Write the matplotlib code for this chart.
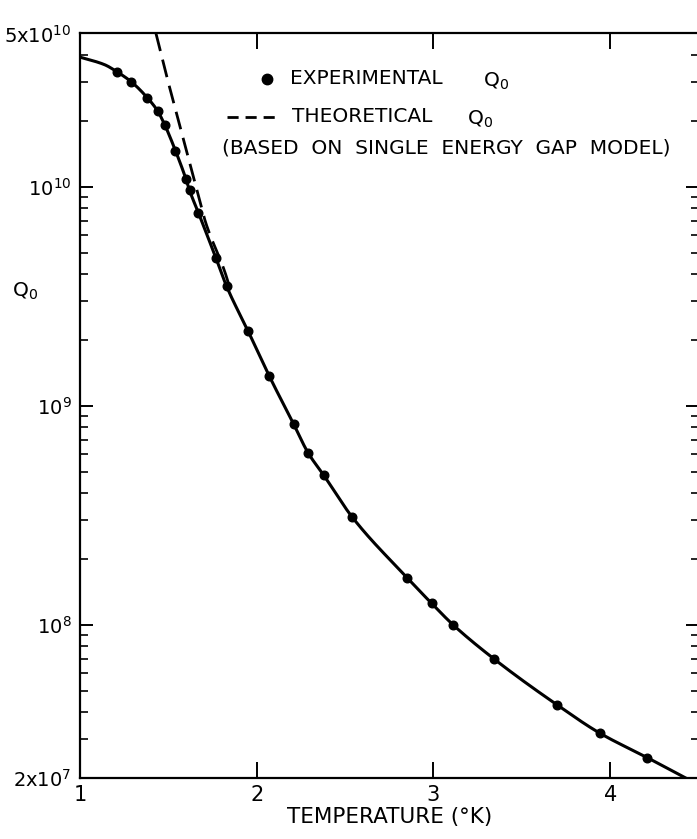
import numpy as np
import matplotlib
matplotlib.use("Agg")
import matplotlib.pyplot as plt
from matplotlib.ticker import FixedLocator, FixedFormatter, NullFormatter

plt.rcParams['font.family'] = ['DejaVu Sans']
plt.rcParams['mathtext.fontset'] = 'dejavusans'

# ---- data ----
temp_exp = [1.21, 1.29, 1.38, 1.44, 1.48, 1.54, 1.60, 1.62, 1.67, 1.77, 1.83, 1.95,
            2.07, 2.21, 2.29, 2.38, 2.54, 2.85, 2.99, 3.11, 3.34, 3.70, 3.94, 4.21]
q_exp = [3.34e10, 3.01e10, 2.55e10, 2.21e10, 1.91e10, 1.46e10, 1.08e10, 9.6e9, 7.6e9,
         4.7e9, 3.5e9, 2.2e9, 1.37e9, 8.2e8, 6.1e8, 4.8e8, 3.1e8, 1.64e8, 1.25e8,
         1.0e8, 7.0e7, 4.3e7, 3.2e7, 2.47e7]

# smooth curve drawn through the experimental points (knots)
temp_fit = [1.00, 1.14] + temp_exp + [4.45]
q_fit = [3.9e10, 3.6e10] + q_exp + [1.95e7]

# theoretical Q0 (single energy gap model), dashed
temp_th = [1.43, 1.49, 1.535, 1.585, 1.63, 1.67, 1.71, 1.82, 1.85]
q_th = [5.0e10, 3.2e10, 2.34e10, 1.65e10, 1.2e10, 9.1e9, 6.9e9, 4.07e9, 3.41e9]

xticks = [1, 2, 3, 4]
ytick_vals = [2e7, 1e8, 1e9, 1e10, 5e10]
ytick_labels = [r"2x$10^{7}$", r"$10^{8}$", r"$10^{9}$", r"$10^{10}$", r"5x$10^{10}$"]


def pchip(x, y, xn):
    x = np.asarray(x, float); y = np.asarray(y, float)
    h = np.diff(x); d = np.diff(y) / h
    m = np.zeros_like(y)
    for k in range(1, len(x) - 1):
        if d[k - 1] * d[k] > 0:
            w1 = 2 * h[k] + h[k - 1]; w2 = h[k] + 2 * h[k - 1]
            m[k] = (w1 + w2) / (w1 / d[k - 1] + w2 / d[k])
    m[0] = d[0]; m[-1] = d[-1]
    idx = np.clip(np.searchsorted(x, xn) - 1, 0, len(x) - 2)
    t = (xn - x[idx]) / h[idx]
    h00 = 2 * t**3 - 3 * t**2 + 1; h10 = t**3 - 2 * t**2 + t
    h01 = -2 * t**3 + 3 * t**2; h11 = t**3 - t**2
    return (h00 * y[idx] + h10 * h[idx] * m[idx] + h01 * y[idx + 1] + h11 * h[idx] * m[idx + 1])


W, H = 697, 839
fig = plt.figure(figsize=(W / 100, H / 100), dpi=100)
left, right, top, bottom = 80, 698.5, 33.5, 777.7
ax = fig.add_axes([left / W, 1 - bottom / H, (right - left) / W, (bottom - top) / H])

ax.set_yscale('log')
ax.set_xlim(1, 4.5)
ax.set_ylim(2e7, 5e10)

xs = np.linspace(temp_fit[0], temp_fit[-1], 600)
ax.plot(xs, 10 ** pchip(temp_fit, np.log10(q_fit), xs), color='black', lw=2.2, zorder=3)
ax.plot(temp_exp, q_exp, 'o', color='black', ms=6.2, zorder=4)
xt = np.linspace(temp_th[0], temp_th[-1], 200)
ax.plot(xt, 10 ** pchip(temp_th, np.log10(q_th), xt), color='black', lw=2.0,
        dashes=(6.5, 3.2), zorder=2)

for s in ax.spines.values():
    s.set_linewidth(1.6)

ax.xaxis.set_major_locator(FixedLocator(xticks))
ax.xaxis.set_major_formatter(FixedFormatter([str(v) for v in xticks]))
ax.tick_params(axis='x', which='major', direction='in', length=11.5, width=1.4,
               top=True, bottom=True, labelsize=15, pad=5)
ax.yaxis.set_major_locator(FixedLocator(ytick_vals))
ax.yaxis.set_major_formatter(FixedFormatter(ytick_labels))
minors = [m * 10.0 ** e for e in (7, 8, 9, 10) for m in range(2, 10)]
minors = [v for v in minors if 2e7 < v < 5e10]
ax.yaxis.set_minor_locator(FixedLocator(minors))
ax.yaxis.set_minor_formatter(NullFormatter())
ax.tick_params(axis='y', which='major', direction='in', length=9.5, width=1.4,
               left=True, right=True, labelsize=14, pad=6)
ax.tick_params(axis='y', which='minor', direction='in', length=5.8, width=1.2,
               left=True, right=True)

ax.set_xlabel("TEMPERATURE (°K)", fontsize=15.5, labelpad=2)


def fp(x, y):
    return (x / W, 1 - y / H)


# y label
fig.text(*fp(12, 291), r"Q$_0$", fontsize=14.5, ha='left', va='center')

# legend (hand-drawn style)
fs = 14.5
fig.lines.append(plt.Line2D([267 / W], [1 - 79 / H], marker='o', color='black', ms=7.5,
                            transform=fig.transFigure))
fig.text(*fp(290, 79), "EXPERIMENTAL", fontsize=fs, ha='left', va='center')
fig.text(*fp(483, 81), r"Q$_0$", fontsize=fs, ha='left', va='center')
fig.lines.append(plt.Line2D([227 / W, 275 / W], [1 - 117 / H, 1 - 117 / H], color='black',
                            lw=2.0, dashes=(4, 2.5), transform=fig.transFigure))
fig.text(*fp(292, 117), "THEORETICAL", fontsize=fs, ha='left', va='center')
fig.text(*fp(467, 119), r"Q$_0$", fontsize=fs, ha='left', va='center')
fig.text(*fp(222, 148), "(BASED  ON  SINGLE  ENERGY  GAP  MODEL)", fontsize=fs,
         ha='left', va='center')

fig.savefig("out.png", dpi=100)
